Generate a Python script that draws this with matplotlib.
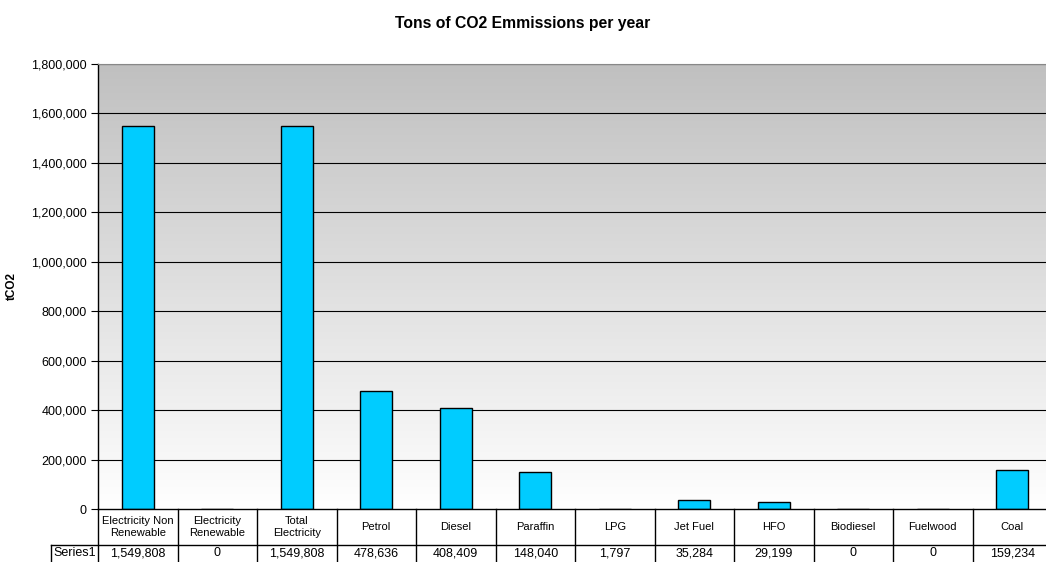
import numpy as np
import matplotlib
matplotlib.use('Agg')
import matplotlib.pyplot as plt
from matplotlib.colors import LinearSegmentedColormap
from matplotlib.ticker import FuncFormatter
import matplotlib.transforms as mtransforms

plt.rcParams['font.family'] = ['Liberation Sans', 'DejaVu Sans']

categories = ['Electricity Non\nRenewable', 'Electricity\nRenewable', 'Total\nElectricity', 'Petrol',
              'Diesel', 'Paraffin', 'LPG', 'Jet Fuel', 'HFO', 'Biodiesel', 'Fuelwood', 'Coal']
emissions = [1549808, 0, 1549808, 478636, 408409, 148040, 1797, 35284, 29199, 0, 0, 159234]
series_name = 'Series1'
y_ticks = np.arange(0, 1800001, 200000)

W, H = 1046, 562
fig = plt.figure(figsize=(W / 100, H / 100), dpi=100)
# plot area in pixels: left 98, top 64, zero line 509, runs a bit past the right edge
ax = fig.add_axes([98 / W, (H - 509) / H, (1052 - 98) / W, (509 - 64) / H])

n = len(categories)
x = np.arange(n)
ax.set_xlim(-0.5, n - 0.5)
ax.set_ylim(0, 1800000)

# grey-to-white wall
grad = np.linspace(1, 0, 256).reshape(-1, 1)
cmap = LinearSegmentedColormap.from_list('wall', ['#ffffff', '#c0c0c0'])
ax.imshow(grad, extent=[-0.5, n - 0.5, 0, 1800000], aspect='auto', cmap=cmap, zorder=0)

ax.set_yticks(y_ticks)
ax.yaxis.set_major_formatter(FuncFormatter(lambda v, p: f'{int(v):,}'))
ax.tick_params(axis='y', labelsize=9, length=5, width=0.8, direction='out', pad=3)
ax.set_xticks([])
for yt in y_ticks[1:]:
    ax.axhline(yt, color='#000000', lw=0.8, zorder=1)

ax.bar(x, emissions, width=0.4, color='#00ccff', edgecolor='#000000', linewidth=1, zorder=2)

for s in ['right', 'bottom']:
    ax.spines[s].set_visible(False)
ax.spines['top'].set_color('#888888')
ax.spines['left'].set_linewidth(1)

plot_w = 1052 - 98
plot_h = 509 - 64
ax.set_ylabel('tCO2', fontsize=8.5, fontweight='bold')
ax.yaxis.set_label_coords((18 - 98) / plot_w, 0.5)
fig.text(0.5, 1 - 28 / H, 'Tons of CO2 Emmissions per year', ha='center', va='baseline',
         fontsize=11.3, fontweight='bold')

# data table under the axis
row1 = -36 / plot_h
row2 = -64 / plot_h
label_x = -0.5 - (98 - 51) / (plot_w / n)
trans = mtransforms.blended_transform_factory(ax.transData, ax.transAxes)
lk = dict(color='#000000', lw=1, transform=trans, clip_on=False)
ax.plot([-0.5, n - 0.5], [0, 0], **lk)
ax.plot([label_x, n - 0.5], [row1, row1], **lk)
ax.plot([label_x, label_x], [row1, row2], **lk)
for i in range(n + 1):
    ax.plot([i - 0.5, i - 0.5], [0, row2], **lk)
val_y = -(553 - 509) / plot_h
for i, (c, v) in enumerate(zip(categories, emissions)):
    ax.text(i, row1 / 2, c, ha='center', va='center', fontsize=8, transform=trans,
            linespacing=1.2, clip_on=False)
    ax.text(i, val_y, f'{v:,}', ha='center', va='center', fontsize=9,
            transform=trans, clip_on=False)
ax.text(label_x + 0.03, val_y, series_name, ha='left', va='center',
        fontsize=9, transform=trans, clip_on=False)

fig.savefig('out.png', dpi=100)
